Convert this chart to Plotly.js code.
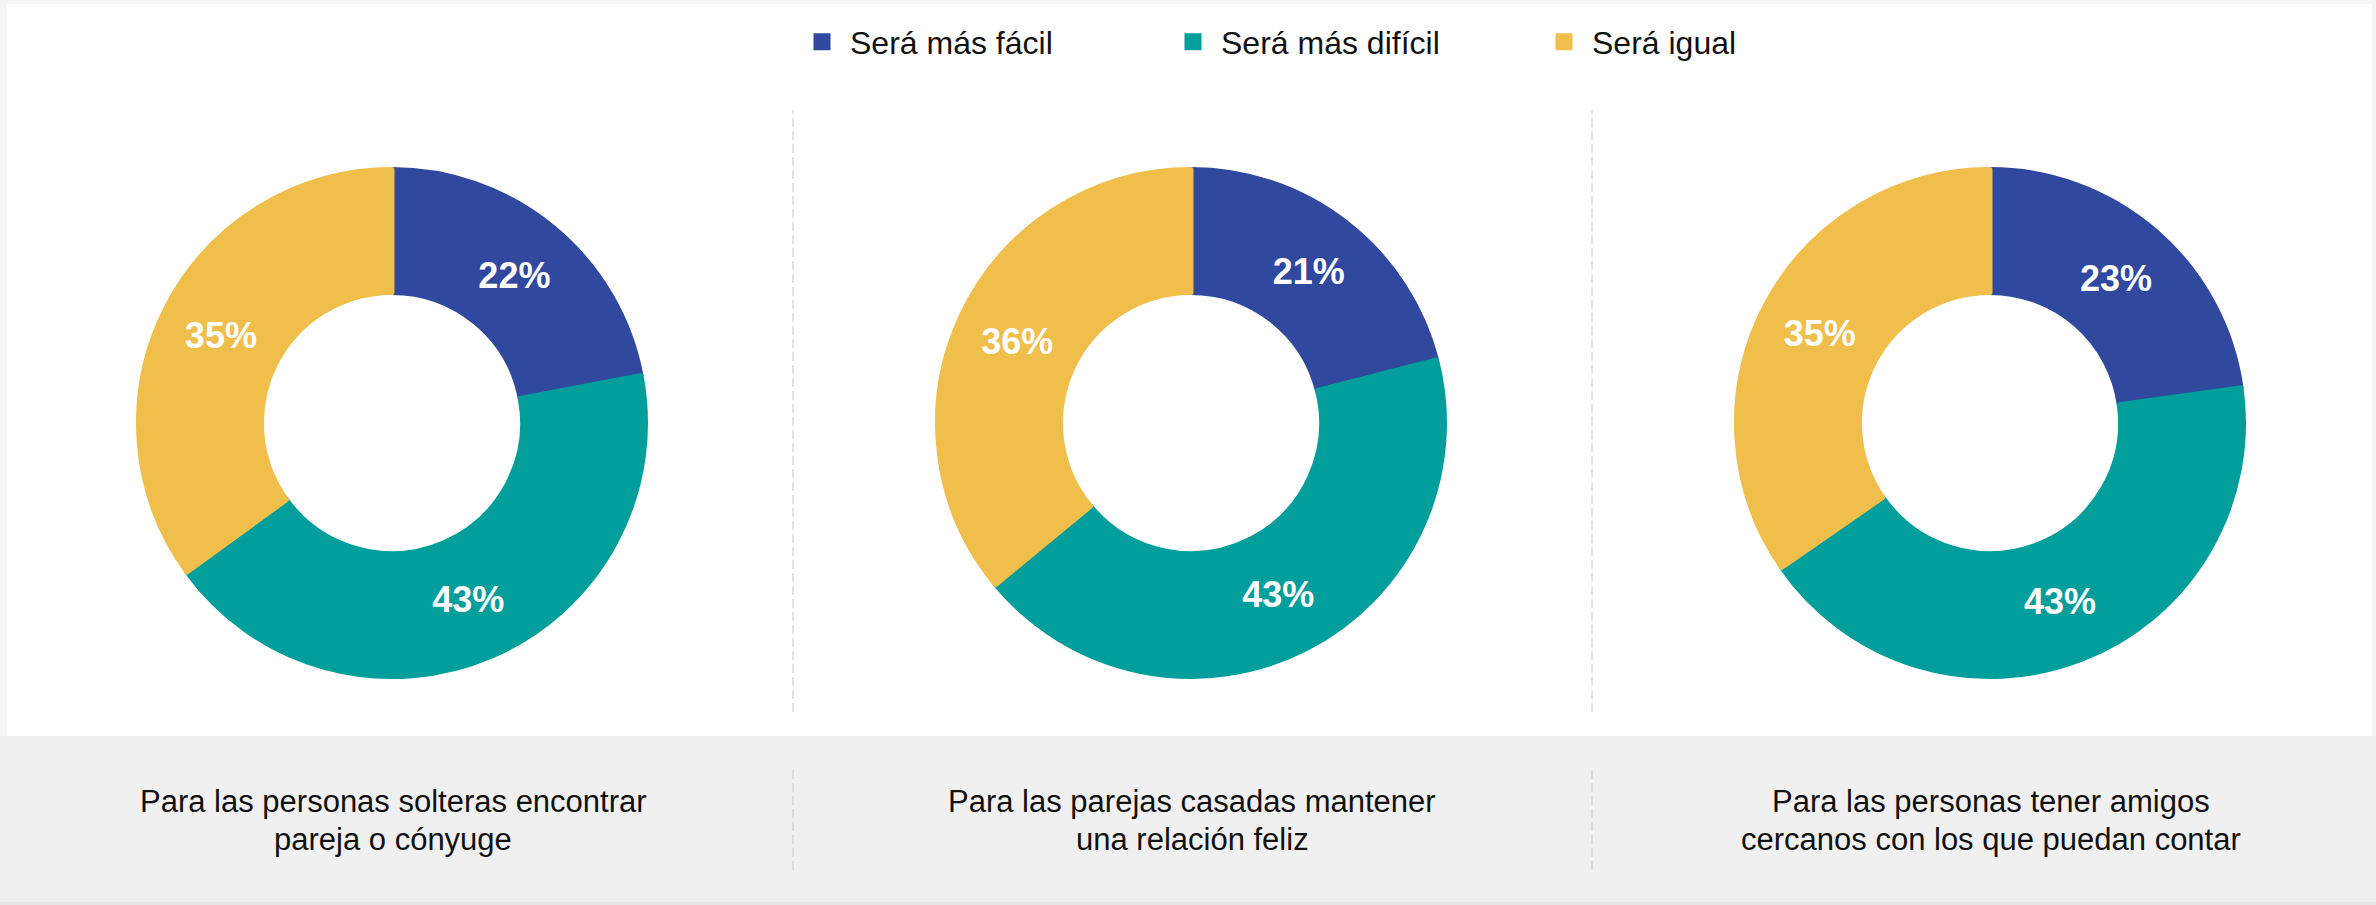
<!DOCTYPE html>
<html>
<head>
<meta charset="utf-8">
<script src="https://cdn.plot.ly/plotly-3.0.1.min.js"></script>
<style>html,body{margin:0;padding:0;background:#f5f5f5;}#chart{width:2376px;height:905px;}</style>
</head>
<body>
<div id="chart"></div>
<script>
// ---- data ----
var categories = ["Será más fácil", "Será más difícil", "Será igual"];
var colors = ["#30489D", "#029E9B", "#F0BE4A"];
var valuesSolteros = [22, 43, 35];
var valuesCasados = [21, 43, 36];
var valuesAmigos = [23, 43, 35];
var panelTitles = [
  ["Para las personas solteras encontrar", "pareja o cónyuge"],
  ["Para las parejas casadas mantener", "una relación feliz"],
  ["Para las personas tener amigos", "cercanos con los que puedan contar"]
];

// ---- layout helpers ----
var W = 2376, H = 905;
function fx(x){ return x / W; }
function fy(y){ return 1 - y / H; }
var centersX = [392, 1191, 1990];
var cy = 423, R = 253.5;
var FONT = "Liberation Sans, Arial, Helvetica, sans-serif";

var seriesVals = [valuesSolteros, valuesCasados, valuesAmigos];
var traces = seriesVals.map(function(vals, i){
  var cx = centersX[i];
  return {
    type: "pie",
    labels: categories,
    values: vals,
    hole: 0.515,
    sort: false,
    direction: "clockwise",
    rotation: 0,
    marker: {colors: colors, line: {width: 5, color: colors}},
    texttemplate: "%{value}%",
    textposition: "inside",
    insidetextorientation: "horizontal",
    textfont: {family: FONT, size: 36, color: "#ffffff", weight: "bold"},
    hoverinfo: "label+value",
    showlegend: i === 0,
    domain: {x: [fx(cx - R), fx(cx + R)], y: [fy(cy + R), fy(cy - R)]}
  };
});

var shapes = [
  {type: "rect", xref: "paper", yref: "paper", x0: fx(7), x1: fx(2372), y0: fy(736), y1: fy(4),
   fillcolor: "#ffffff", line: {width: 0}, layer: "below"},
  {type: "rect", xref: "paper", yref: "paper", x0: 0, x1: 1, y0: fy(902), y1: fy(736),
   fillcolor: "#f0f0f0", line: {width: 0}, layer: "below"},
  {type: "rect", xref: "paper", yref: "paper", x0: 0, x1: 1, y0: 0, y1: fy(902),
   fillcolor: "#e6e6e6", line: {width: 0}, layer: "below"}
];
[793, 1592].forEach(function(x){
  shapes.push({type: "line", xref: "paper", yref: "paper", x0: fx(x), x1: fx(x), y0: fy(712), y1: fy(110),
    line: {color: "#c8c8c8", width: 1, dash: "9px,4px"}, layer: "below"});
  shapes.push({type: "line", xref: "paper", yref: "paper", x0: fx(x), x1: fx(x), y0: fy(870), y1: fy(767),
    line: {color: "#c8c8c8", width: 1, dash: "9px,4px"}, layer: "below"});
});

var annotations = [];
var lineY = [801, 839];
panelTitles.forEach(function(lines, i){
  lines.forEach(function(t, j){
    annotations.push({xref: "paper", yref: "paper", x: fx(centersX[i] + 1), y: fy(lineY[j]),
      xanchor: "center", yanchor: "middle", text: t, showarrow: false, align: "center",
      font: {family: FONT, size: 31, color: "#111111"}});
  });
});

var layout = {
  width: W, height: H,
  margin: {l: 0, r: 0, t: 0, b: 0},
  paper_bgcolor: "#f5f5f5",
  plot_bgcolor: "#ffffff",
  font: {family: FONT, color: "#111111"},
  showlegend: true,
  legend: {
    orientation: "h", x: fx(794), xanchor: "left", y: fy(42), yanchor: "middle",
    font: {family: FONT, size: 32, color: "#111111"},
    bgcolor: "rgba(0,0,0,0)", itemwidth: 46, entrywidth: 310, entrywidthmode: "pixels",
    traceorder: "normal"
  },
  shapes: shapes,
  annotations: annotations
};

Plotly.newPlot("chart", traces, layout, {displayModeBar: false, staticPlot: true});
</script>
</body>
</html>
